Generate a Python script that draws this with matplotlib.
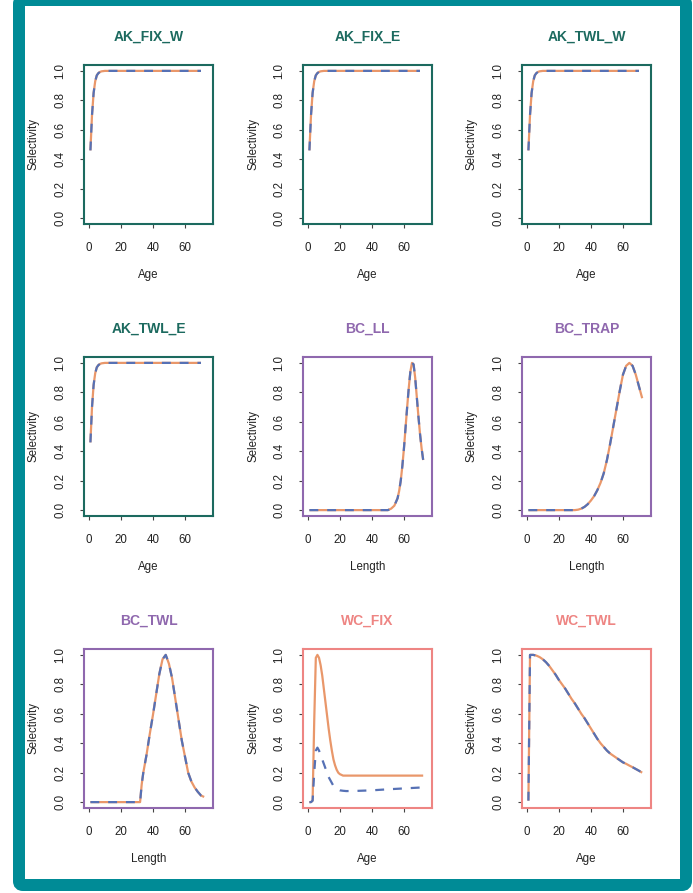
import matplotlib
matplotlib.use("Agg")
import matplotlib.pyplot as plt
from matplotlib.patches import FancyBboxPatch
from matplotlib.transforms import IdentityTransform

plt.rcParams['font.family'] = ['Liberation Sans', 'DejaVu Sans']

# ---------------- data ----------------
titles = ["AK_FIX_W", "AK_FIX_E", "AK_TWL_W",
          "AK_TWL_E", "BC_LL", "BC_TRAP",
          "BC_TWL", "WC_FIX", "WC_TWL"]
xlabels = ["Age", "Age", "Age",
           "Age", "Length", "Length",
           "Length", "Age", "Age"]

ak_age = [1, 2, 3, 4, 5, 6, 7, 8, 10, 12, 15, 20, 30, 70]
ak_sel = [0.46, 0.70, 0.85, 0.93, 0.97, 0.985, 0.993, 0.997, 1.0, 1.0, 1.0, 1.0, 1.0, 1.0]

bc_ll_len = [1, 50, 52, 54, 56, 57, 58, 59, 60, 61, 62, 63, 64, 65, 66, 67, 68, 69, 70, 71, 72]
bc_ll_sel = [0.0, 0.0, 0.01, 0.03, 0.08, 0.13, 0.2, 0.3, 0.42, 0.56, 0.7, 0.83, 0.94, 1.0,
             0.99, 0.9, 0.77, 0.64, 0.52, 0.42, 0.34]

bc_trap_len = [1, 30, 32, 34, 36, 38, 40, 42, 44, 46, 48, 50, 52, 54, 56, 58, 60, 62, 64,
               66, 68, 70, 72]
bc_trap_sel = [0.0, 0.0, 0.003, 0.01, 0.022, 0.04, 0.065, 0.095, 0.135, 0.185, 0.25, 0.34,
               0.45, 0.57, 0.69, 0.81, 0.92, 0.98, 1.0, 0.98, 0.92, 0.84, 0.76]

bc_twl_len = [1, 32, 33, 34, 36, 38, 40, 42, 44, 46, 48, 50, 52, 54, 56, 58, 60, 62, 64,
              66, 68, 70, 72]
bc_twl_sel = [0.0, 0.0, 0.12, 0.2, 0.32, 0.46, 0.59, 0.73, 0.87, 0.97, 1.0, 0.94, 0.84,
              0.7, 0.56, 0.42, 0.31, 0.2, 0.14, 0.1, 0.07, 0.045, 0.035]

wc_fix_age = [1, 2, 3, 4, 5, 6, 7, 8, 9, 10, 11, 12, 13, 14, 15, 16, 17, 18, 19, 20, 22,
              24, 30, 40, 50, 60, 72]
wc_fix_sel_a = [0.0, 0.0, 0.01, 0.55, 0.98, 1.0, 0.98, 0.93, 0.86, 0.77, 0.68, 0.59, 0.5,
                0.42, 0.35, 0.29, 0.25, 0.22, 0.2, 0.19, 0.18, 0.18, 0.18, 0.18, 0.18,
                0.18, 0.18]
wc_fix_sel_b = [0.0, 0.0, 0.01, 0.2, 0.35, 0.37, 0.35, 0.32, 0.29, 0.26, 0.23, 0.2, 0.17,
                0.15, 0.13, 0.11, 0.1, 0.09, 0.085, 0.08, 0.077, 0.075, 0.076, 0.08, 0.087,
                0.093, 0.1]

wc_twl_age = [1, 2, 4, 6, 8, 10, 12, 14, 16, 18, 20, 22, 24, 26, 28, 30, 32, 34, 36, 38,
              40, 42, 44, 46, 48, 50, 52, 54, 56, 58, 60, 62, 64, 66, 68, 70, 72]
wc_twl_sel = [0.01, 1.0, 1.0, 0.995, 0.985, 0.97, 0.95, 0.925, 0.895, 0.865, 0.83, 0.8,
              0.77, 0.735, 0.7, 0.67, 0.635, 0.6, 0.57, 0.535, 0.5, 0.465, 0.43, 0.4,
              0.375, 0.35, 0.33, 0.315, 0.3, 0.285, 0.27, 0.26, 0.248, 0.237, 0.225,
              0.213, 0.2]

series_x = [ak_age, ak_age, ak_age, ak_age, bc_ll_len, bc_trap_len, bc_twl_len,
            wc_fix_age, wc_twl_age]
series_a = [ak_sel, ak_sel, ak_sel, ak_sel, bc_ll_sel, bc_trap_sel, bc_twl_sel,
            wc_fix_sel_a, wc_twl_sel]
series_b = [ak_sel, ak_sel, ak_sel, ak_sel, bc_ll_sel, bc_trap_sel, bc_twl_sel,
            wc_fix_sel_b, wc_twl_sel]

xticks = [0, 20, 40, 60]
yticks = [0.0, 0.2, 0.4, 0.6, 0.8, 1.0]
ytick_labels = ["0.0", "0.2", "0.4", "0.6", "0.8", "1.0"]

# ---------------- style ----------------
W, H = 693, 893
teal_frame = "#008B96"
ak_col = "#1C6A5F"
bc_col = "#8F68AE"
wc_col = "#EE8583"
panel_cols = [ak_col] * 4 + [bc_col] * 3 + [wc_col] * 2
orange = "#E9976A"
blue = "#5671B5"

fig = plt.figure(figsize=(W / 100, H / 100), dpi=100)
fig.patch.set_facecolor("white")

# frame
frame = FancyBboxPatch((19, 8), 667, 885,
                       boxstyle="round,pad=0,rounding_size=4",
                       transform=IdentityTransform(), facecolor="none",
                       edgecolor=teal_frame, linewidth=12 * 0.72, zorder=0)
fig.patches.append(frame)

col_left = [84, 303, 522]
row_top = [65, 357, 649]
bw, bh = 129, 159

for i in range(9):
    r, c = divmod(i, 3)
    left = col_left[c] / W
    bottom = 1 - (row_top[r] + bh) / H
    ax = fig.add_axes([left, bottom, bw / W, bh / H])
    col = panel_cols[i]
    ax.plot(series_x[i], series_a[i], color=orange, lw=1.6, solid_capstyle="butt", zorder=2)
    ax.plot(series_x[i], series_b[i], color=blue, lw=1.6, dashes=(4, 4), zorder=3)
    ax.set_xlim(-3, 77.5)
    ax.set_ylim(-0.04, 1.04)
    ax.set_xticks(xticks)
    ax.set_yticks(yticks)
    ax.set_yticklabels(ytick_labels)
    for s in ax.spines.values():
        s.set_color(col)
        s.set_linewidth(1.5)
    ax.tick_params(axis="both", direction="out", length=3.2, width=0.8,
                   color="#444444", labelsize=8.3, labelcolor="#222222", pad=9.5)
    ax.tick_params(axis="y", labelrotation=90)
    for lab in ax.get_yticklabels():
        lab.set_va("center")
    ax.text(0.5, 1 + 28 / bh, titles[i], transform=ax.transAxes, ha="center",
            va="center", fontsize=10, fontweight="bold", color=col)
    ax.text(0.5, -51 / bh, xlabels[i], transform=ax.transAxes, ha="center",
            va="center", fontsize=8.3, color="#222222")
    ax.text(-50 / bw, 0.5, "Selectivity", transform=ax.transAxes, ha="center",
            va="center", rotation=90, fontsize=8.3, color="#222222")

fig.savefig("out.png", dpi=100, facecolor="white")
